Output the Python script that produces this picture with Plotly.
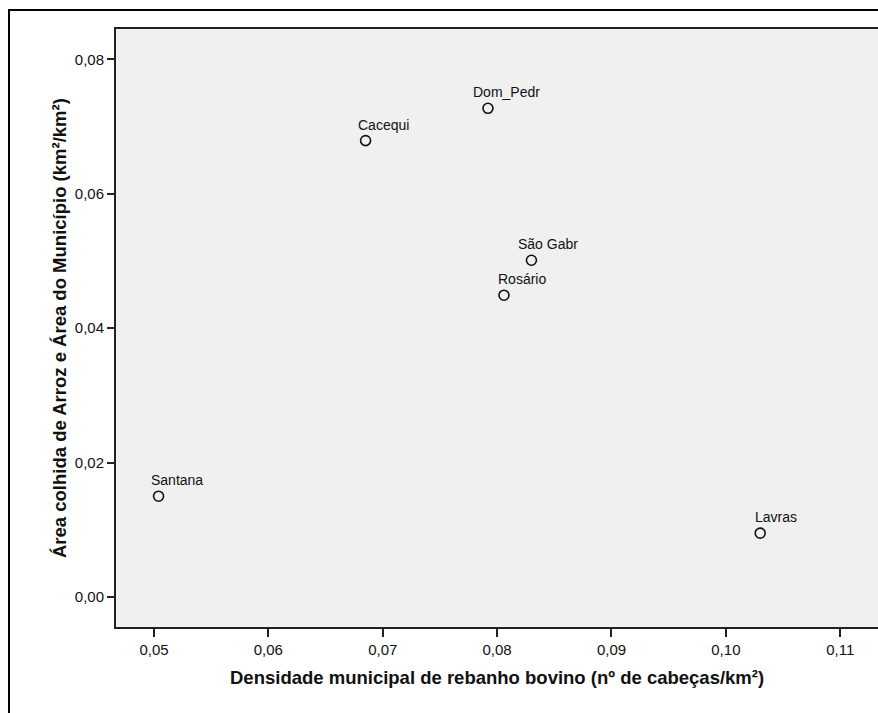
import plotly.graph_objects as go

# Municipal data: cattle density vs rice-harvested share of area
municipios = ["Santana", "Cacequi", "Dom_Pedr", "São Gabr", "Rosário", "Lavras"]
densidade_bovina = [0.0504, 0.0685, 0.0792, 0.0830, 0.0806, 0.1030]
area_arroz = [0.0150, 0.0679, 0.0727, 0.0501, 0.0449, 0.0095]

x_ticks = [0.05, 0.06, 0.07, 0.08, 0.09, 0.10, 0.11]
y_ticks = [0.00, 0.02, 0.04, 0.06, 0.08]

# horizontal nudge of each point label (pixels, left-anchored)
label_dx = [-10, -10, -17, -15, -8, -7]

FONT = "Arial, Liberation Sans, sans-serif"

fig = go.Figure()
fig.add_trace(go.Scatter(
    x=densidade_bovina, y=area_arroz, mode="markers",
    marker=dict(symbol="circle-open", size=10, color="#111111",
                line=dict(width=1.6, color="#111111")),
    hoverinfo="skip", showlegend=False,
))

annotations = []
for name, xv, yv, dx in zip(municipios, densidade_bovina, area_arroz, label_dx):
    annotations.append(dict(
        x=xv, y=yv, xref="x", yref="y", text=name, showarrow=False,
        xanchor="left", yanchor="middle", xshift=dx, yshift=16,
        font=dict(family=FONT, size=14, color="#111111"),
    ))

annotations.append(dict(
    x=0.5, y=0, xref="paper", yref="paper", showarrow=False,
    text="Densidade municipal de rebanho bovino (nº de cabeças/km²)",
    xanchor="center", yanchor="middle", yshift=-50,
    font=dict(family=FONT, size=18.5, color="#111111", weight="bold"),
))
annotations.append(dict(
    x=0, y=0.5, xref="paper", yref="paper", showarrow=False,
    text="Área colhida de Arroz e Área do Município (km²/km²)",
    textangle=-90, xanchor="center", yanchor="middle", xshift=-57,
    font=dict(family=FONT, size=18.5, color="#111111", weight="bold"),
))

fig.update_layout(
    width=878, height=713,
    margin=dict(l=116, r=0, t=29, b=86),
    paper_bgcolor="white", plot_bgcolor="#f0f0f0",
    separators=",.",
    annotations=annotations,
    shapes=[dict(
        type="rect", xref="paper", yref="paper",
        x0=-0.1404, x1=1.2, y0=-0.3, y1=1.0318,
        line=dict(color="black", width=2), fillcolor="rgba(0,0,0,0)", layer="below",
    )],
    xaxis=dict(
        range=[0.04668, 0.1133], tickvals=x_ticks, tickformat=".2f",
        showgrid=False, zeroline=False,
        showline=True, linecolor="#222222", linewidth=2, mirror=True,
        ticks="outside", ticklen=8, tickwidth=2, tickcolor="#222222",
        tickfont=dict(family=FONT, size=15, color="#111111"),
    ),
    yaxis=dict(
        range=[-0.00446, 0.0845], tickvals=y_ticks, tickformat=".2f",
        showgrid=False, zeroline=False,
        showline=True, linecolor="#222222", linewidth=2,
        ticks="outside", ticklen=7, tickwidth=2, tickcolor="#222222",
        tickfont=dict(family=FONT, size=15, color="#111111"),
    ),
)

fig.write_html("out.html")
